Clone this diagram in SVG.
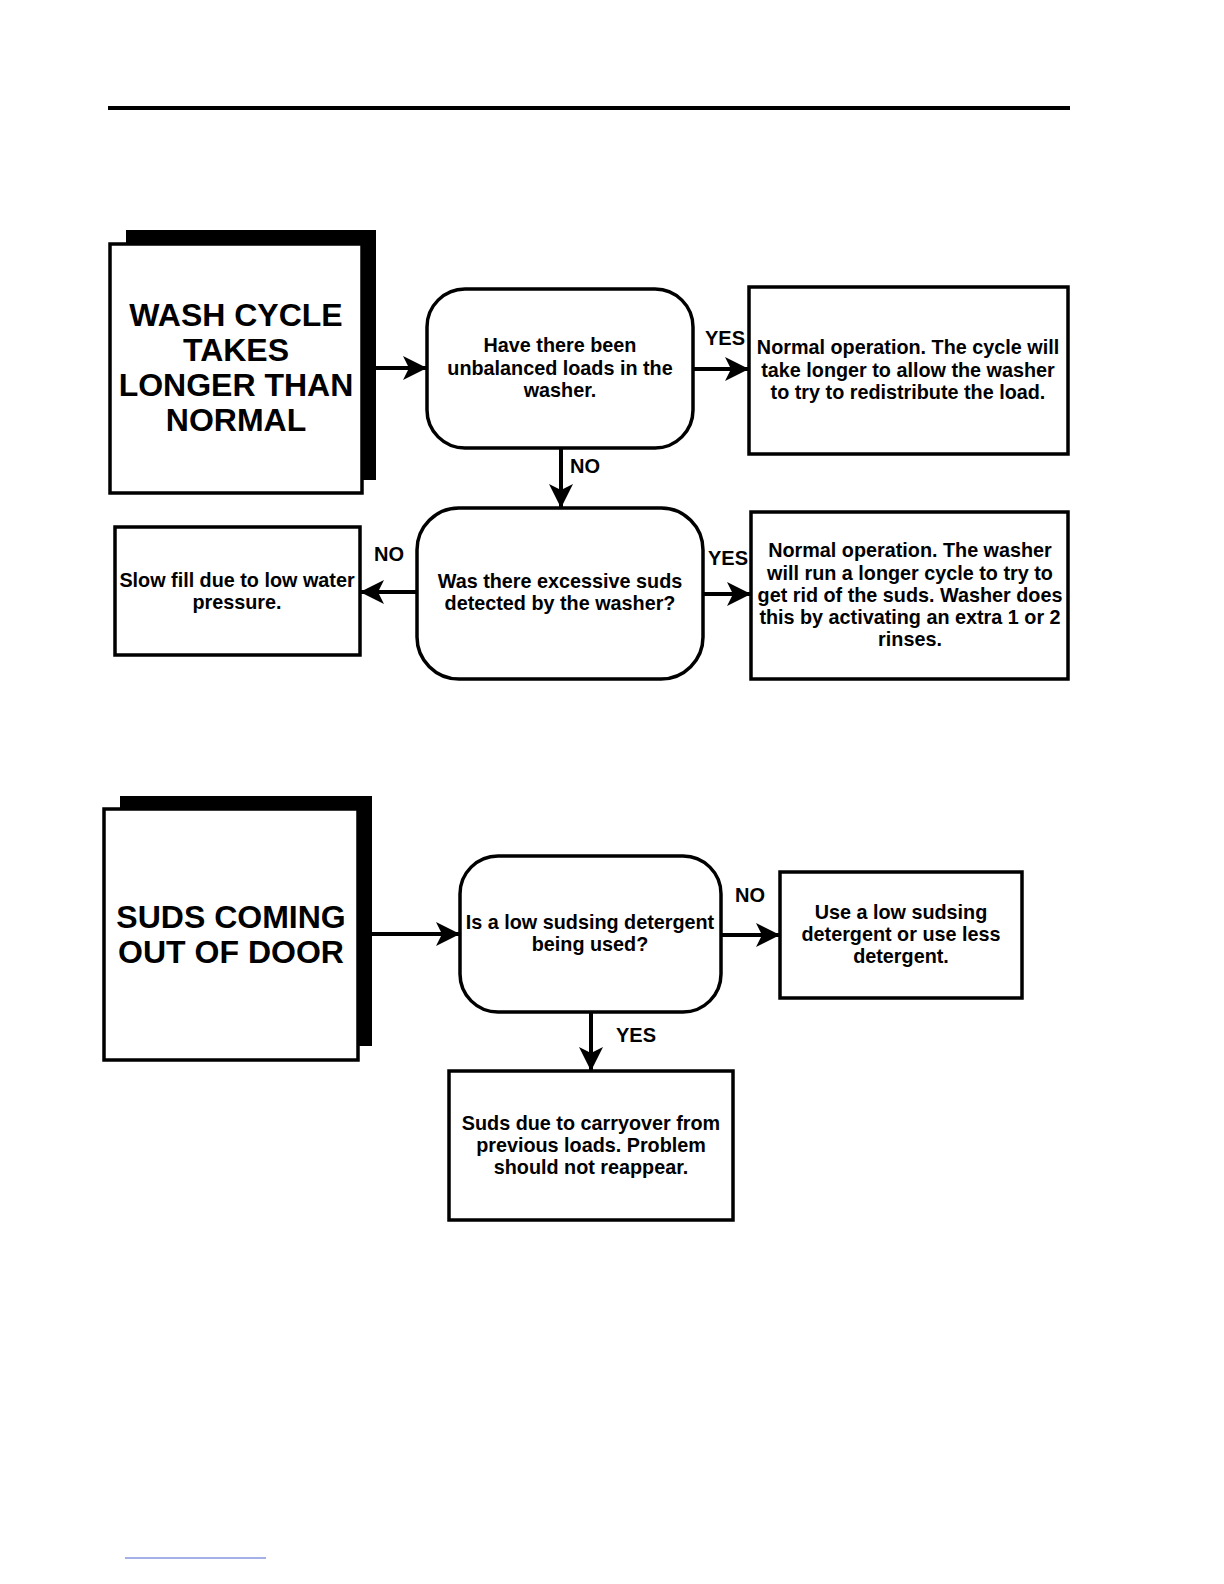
<svg xmlns="http://www.w3.org/2000/svg" width="1224" height="1584" viewBox="0 0 1224 1584">
<defs>
<style>
.box{fill:#fff;stroke:#000;stroke-width:3.5}
.shadow{fill:#000}
.t{font-family:"Liberation Sans",Arial,sans-serif;font-weight:bold;font-size:19.8px;text-anchor:middle;fill:#000}
.title{font-family:"Liberation Sans",Arial,sans-serif;font-weight:bold;font-size:32px;text-anchor:middle;fill:#000}
.lbl{font-family:"Liberation Sans",Arial,sans-serif;font-weight:bold;font-size:20px;fill:#000}
.c{stroke:#000;stroke-width:4;fill:none;marker-end:url(#ah)}
</style>
<marker id="ah" markerUnits="userSpaceOnUse" markerWidth="26" markerHeight="24" refX="24" refY="12" orient="auto">
<path d="M0,0 L24,12 L0,24 L6,12 z" fill="#000"/>
</marker>
</defs>
<rect width="1224" height="1584" fill="#fff"/>
<line x1="108" y1="108" x2="1070" y2="108" stroke="#000" stroke-width="4"/>
<line x1="125" y1="1558" x2="266" y2="1558" stroke="#4a5fd0" stroke-width="1"/>

<g id="title1">
<rect class="shadow" x="126" y="230" width="250" height="250"/>
<rect class="box" x="110" y="244" width="252" height="249"/>
<text class="title" x="236" y="326">WASH CYCLE</text>
<text class="title" x="236" y="361">TAKES</text>
<text class="title" x="236" y="396">LONGER THAN</text>
<text class="title" x="236" y="431">NORMAL</text>
</g>

<g id="decision1">
<rect class="box" x="427" y="289" width="266" height="159" rx="38"/>
<text class="t" x="560" y="352">Have there been</text>
<text class="t" x="560" y="375">unbalanced loads in the</text>
<text class="t" x="560" y="397">washer.</text>
</g>

<g id="result1">
<rect class="box" x="749" y="287" width="319" height="167"/>
<text class="t" x="908" y="354">Normal operation. The cycle will</text>
<text class="t" x="908" y="377">take longer to allow the washer</text>
<text class="t" x="908" y="399">to try to redistribute the load.</text>
</g>

<g id="decision2">
<rect class="box" x="417" y="508" width="286" height="171" rx="42"/>
<text class="t" x="560" y="588">Was there  excessive suds</text>
<text class="t" x="560" y="610">detected by the washer?</text>
</g>

<g id="result2">
<rect class="box" x="115" y="527" width="245" height="128"/>
<text class="t" x="237" y="587">Slow fill due to low water</text>
<text class="t" x="237" y="609">pressure.</text>
</g>

<g id="result3">
<rect class="box" x="751" y="512" width="317" height="167"/>
<text class="t" x="910" y="557">Normal operation.  The washer</text>
<text class="t" x="910" y="580">will run a longer cycle to try to</text>
<text class="t" x="910" y="602">get rid of the suds. Washer does</text>
<text class="t" x="910" y="624">this by activating an extra 1 or 2</text>
<text class="t" x="910" y="646">rinses.</text>
</g>

<g id="title2">
<rect class="shadow" x="120" y="796" width="252" height="250"/>
<rect class="box" x="104" y="809" width="254" height="251"/>
<text class="title" x="231" y="928">SUDS COMING</text>
<text class="title" x="231" y="963">OUT OF DOOR</text>
</g>

<g id="decision3">
<rect class="box" x="460" y="856" width="261" height="156" rx="38"/>
<text class="t" x="590" y="929">Is a low sudsing detergent</text>
<text class="t" x="590" y="951">being used?</text>
</g>

<g id="result4">
<rect class="box" x="780" y="872" width="242" height="126"/>
<text class="t" x="901" y="919">Use a low sudsing</text>
<text class="t" x="901" y="941">detergent or use less</text>
<text class="t" x="901" y="963">detergent.</text>
</g>

<g id="result5">
<rect class="box" x="449" y="1071" width="284" height="149"/>
<text class="t" x="591" y="1130">Suds due to carryover from</text>
<text class="t" x="591" y="1152">previous loads. Problem</text>
<text class="t" x="591" y="1174">should not reappear.</text>
</g>

<g id="connectors">
<line class="c" x1="376" y1="368" x2="427" y2="368"/>
<line class="c" x1="693" y1="369" x2="749" y2="369"/>
<line class="c" x1="561" y1="448" x2="561" y2="508"/>
<line class="c" x1="417" y1="592" x2="360" y2="592"/>
<line class="c" x1="703" y1="594" x2="751" y2="594"/>
<line class="c" x1="372" y1="934" x2="460" y2="934"/>
<line class="c" x1="721" y1="935" x2="780" y2="935"/>
<line class="c" x1="591" y1="1012" x2="591" y2="1071"/>
<text class="lbl" x="705" y="345">YES</text>
<text class="lbl" x="570" y="473">NO</text>
<text class="lbl" x="374" y="561">NO</text>
<text class="lbl" x="708" y="565">YES</text>
<text class="lbl" x="735" y="902">NO</text>
<text class="lbl" x="616" y="1042">YES</text>
</g>
</svg>
